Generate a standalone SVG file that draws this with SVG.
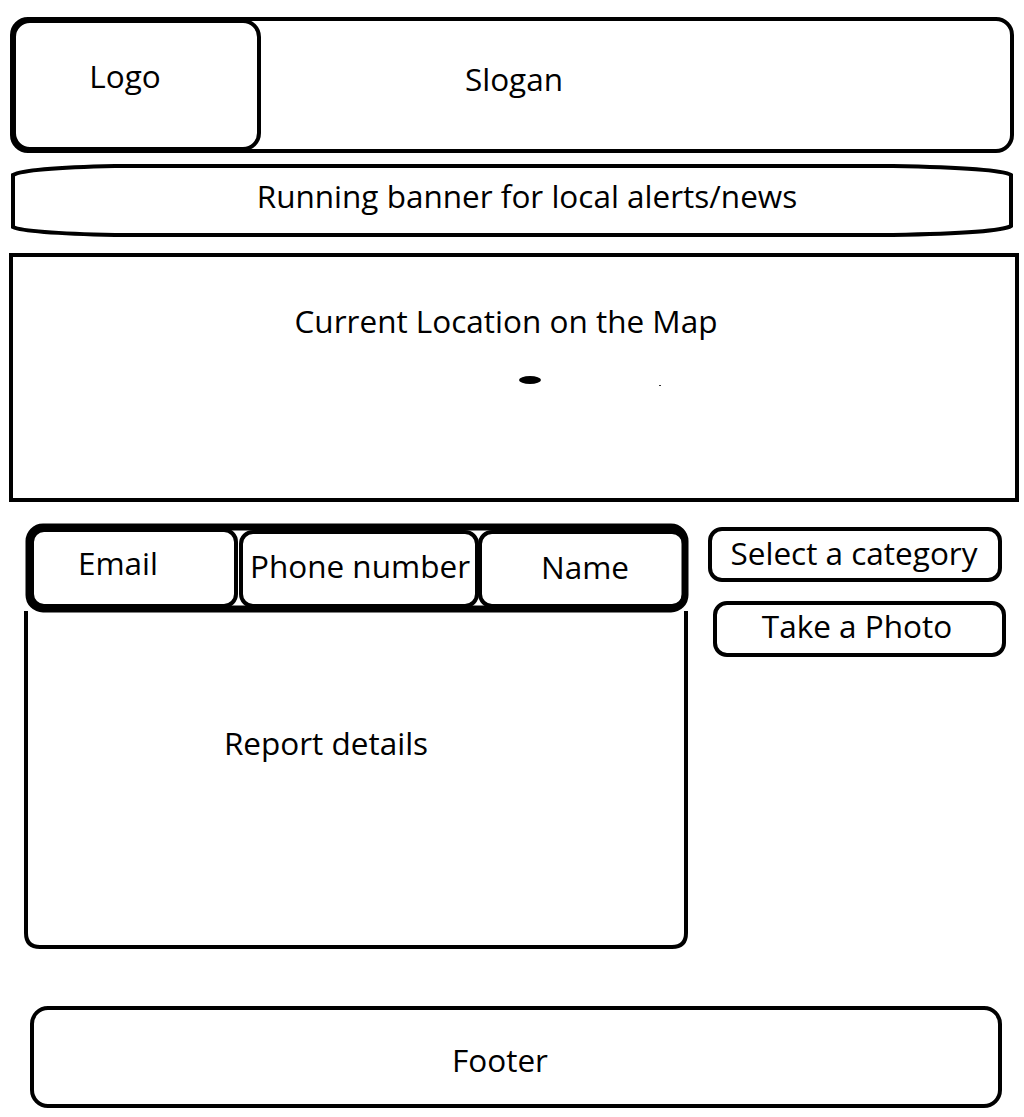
<svg xmlns="http://www.w3.org/2000/svg" width="1024" height="1117" viewBox="0 0 1024 1117">
<style>
.box{fill:none;stroke:#000;stroke-width:4}
.thick{fill:none;stroke:#000;stroke-width:7}
.t{font-family:"Open Sans","Noto Sans",sans-serif;font-size:31.5px;fill:#000;text-anchor:middle}
</style>
<rect width="1024" height="1117" fill="#fff"/>
<g id="header">
<rect class="box" x="12" y="19" width="1000" height="132" rx="16"/>
<text class="t" x="514" y="91">Slogan</text>
</g>
<g id="logo">
<rect class="box" x="14" y="21" width="245" height="128" rx="16"/>
<text class="t" x="125" y="88">Logo</text>
</g>
<g id="banner">
<path class="box" d="M115 166 L893 166 Q1000 168 1011 175 L1011 226 Q1000 233 893 235 L115 235 Q25 233 13 227 L13 175 Q25 168 115 166 Z"/>
<text class="t" x="527" y="208">Running banner for local alerts/news</text>
</g>
<g id="map">
<rect class="box" x="11" y="255" width="1006" height="245"/>
<text class="t" x="506" y="333">Current Location on the Map</text>
<ellipse cx="530" cy="380" rx="11" ry="4" fill="#000"/>
<rect x="659" y="385" width="2" height="1" fill="#333"/>
</g>
<g id="report">
<path class="box" d="M26 611 L26 933 Q26 947 40 947 L672 947 Q686 947 686 933 L686 611"/>
<rect class="thick" x="29" y="527" width="656" height="82" rx="14"/>
<text class="t" x="326" y="755">Report details</text>
</g>
<g id="email">
<rect class="box" x="32" y="530" width="204" height="76" rx="12"/>
<text class="t" x="118" y="575">Email</text>
</g>
<g id="phone">
<rect class="box" x="241" y="532" width="236" height="74" rx="12"/>
<text class="t" x="360" y="578">Phone number</text>
</g>
<g id="name">
<rect class="box" x="480" y="532" width="204" height="74" rx="12"/>
<text class="t" x="585" y="579">Name</text>
</g>
<g id="category">
<rect class="box" x="710" y="529" width="290" height="51" rx="12"/>
<text class="t" x="854" y="565">Select a category</text>
</g>
<g id="photo">
<rect class="box" x="715" y="603" width="289" height="52" rx="12"/>
<text class="t" x="857" y="638">Take a Photo</text>
</g>
<g id="footer">
<rect class="box" x="32" y="1008" width="968" height="98" rx="16"/>
<text class="t" x="500" y="1072">Footer</text>
</g>
<g id="connectors"></g>
</svg>
